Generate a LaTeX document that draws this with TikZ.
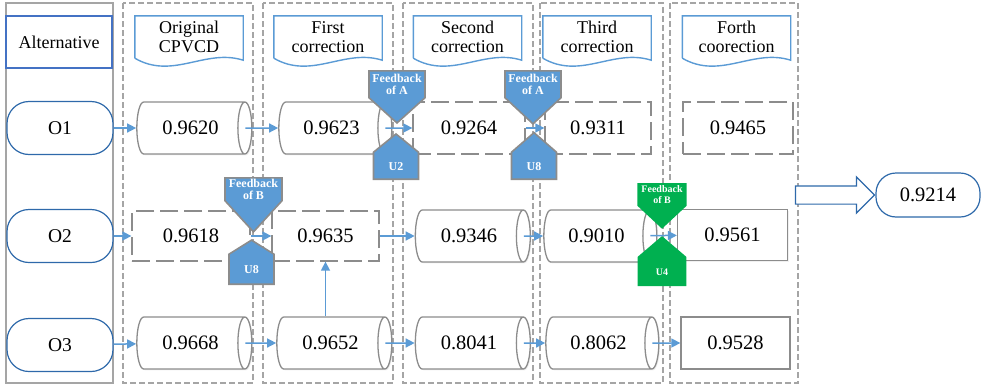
\documentclass[tikz,border=0pt]{standalone}
\usepackage{fontspec}
\setmainfont{Liberation Serif}
\usetikzlibrary{arrows.meta,calc,shadows,shapes.geometric,shapes.symbols,shapes.arrows}

\definecolor{framegray}{RGB}{165,165,165}
\definecolor{boxgray}{RGB}{140,140,140}
\definecolor{flowblue}{RGB}{91,155,213}
\definecolor{headblue}{RGB}{68,114,196}
\definecolor{termblue}{RGB}{46,105,170}
\definecolor{fbgreen}{RGB}{0,176,80}

\tikzset{
  colframe/.style={draw=framegray,line width=1.3pt,dash pattern=on 6pt off 3pt},
  altframe/.style={draw=framegray,line width=1.3pt},
  head/.style={minimum width=108pt,minimum height=42pt,inner sep=0pt,align=center,font=\fontsize{18}{19}\selectfont},
  docline/.style={draw=flowblue,line width=1.4pt},
  term/.style={draw=termblue,line width=1.2pt,fill=white,rounded corners=22pt,minimum width=106pt,minimum height=53pt,font=\fontsize{19.5}{20}\selectfont},
  val/.style={fill=white,line width=1.3pt,inner sep=0pt,font=\fontsize{20.5}{22}\selectfont},
  softshadow/.style={drop shadow={shadow xshift=1.3pt,shadow yshift=-1.3pt,opacity=.12}},
  cyl/.style={val,cylinder,draw=boxgray,shape aspect=1,minimum width=52pt,minimum height=115pt,softshadow},
  dbox/.style={val,draw=boxgray,dash pattern=on 18pt off 6pt,minimum width=112pt,minimum height=52pt},
  sbox/.style={val,draw=boxgray,minimum width=110pt,minimum height=51pt,softshadow},
  fbk/.style={signal,signal to=south,signal pointer angle=#1,fill=flowblue,draw=boxgray,line width=1.6pt,
    text=white,align=center,minimum width=56pt,inner ysep=3pt,font=\bfseries\fontsize{12}{12.5}\selectfont},
  unit/.style={signal,signal to=north,signal pointer angle=#1,fill=flowblue,draw=boxgray,line width=1.6pt,
    text=white,minimum width=45pt,text height=9pt,text depth=0pt,inner ysep=9pt,font=\bfseries\fontsize{12}{12}\selectfont},
  green/.style={fill=fbgreen,draw=fbgreen,minimum width=47pt},
  flow/.style={-{Triangle[length=9pt,width=9pt]},draw=flowblue,line width=1.5pt},
  fromcyl/.style={flow,shorten <=-7pt},
}

\begin{document}
\begin{tikzpicture}[x=1pt,y=-1pt]
\useasboundingbox (0,0) rectangle (982,386);

% column frames
\draw[altframe] (6,3) rectangle (113,383);
\foreach \xa/\xb in {123/253,263/393,403/533,540/663,670/798}
  \draw[colframe] (\xa,3) rectangle (\xb,383);

% headers
\node[draw=headblue,line width=1.3pt,minimum width=106pt,minimum height=52pt,font=\fontsize{18}{19}\selectfont] (alt) at (59,42) {Alternative};
\node[head] (h1) at (189,37) {Original\\CPVCD};
\node[head] (h2) at (328,37) {First\\correction};
\node[head] (h3) at (467.5,37) {Second\\correction};
\node[head] (h4) at (597,37) {Third\\correction};
\node[head] (h5) at (736.5,37) {Forth\\coorection};
\foreach \h in {h1,h2,h3,h4,h5}
  \draw[docline] (\h.south west) -- (\h.north west) -- (\h.north east) -- ($(\h.south east)+(0,2)$)
    .. controls ($(\h.south west)!.65!(\h.south east)+(0,-10)$) and ($(\h.south west)!.35!(\h.south east)+(0,22)$) .. (\h.south west);

% alternatives
\node[term] (o1) at (60,128) {O1};
\node[term] (o2) at (60,236) {O2};
\node[term] (o3) at (60,345) {O3};

% values, row by row
\node[cyl] (r1c1) at (190.5,128) {0.9620};
\node[cyl,minimum height=113pt] (r1c2) at (331.5,128) {0.9623};
\node[dbox] (r1c3) at (469,128) {0.9264};
\node[dbox,minimum width=106pt] (r1c4) at (598,128) {0.9311};
\node[dbox,minimum width=110pt] (r1c5) at (738,128) {0.9465};

\node[dbox,minimum width=118pt,minimum height=50pt] (r2c1) at (191,236) {0.9618};
\node[dbox,minimum width=107pt,minimum height=50pt] (r2c2) at (325.5,236) {0.9635};
\node[cyl] (r2c3) at (469,236) {0.9346};
\node[cyl,minimum height=113pt] (r2c4) at (596.5,236) {0.9010};
\node[sbox] (r2c5) at (732.5,235) {0.9561};

\node[cyl] (r3c1) at (190.5,343) {0.9668};
\node[cyl] (r3c2) at (330.5,343) {0.9652};
\node[cyl] (r3c3) at (469,343) {0.8041};
\node[cyl,minimum height=113pt] (r3c4) at (598.5,343) {0.8062};
\node[sbox,minimum width=109pt,minimum height=52pt] (r3c5) at (735.5,343) {0.9528};

% result
\node[term,minimum width=104pt,minimum height=44pt,rounded corners=20pt,font=\fontsize{20.5}{22}\selectfont] (res) at (928,195) {0.9214};
\node[single arrow,draw=termblue,line width=1.2pt,fill=white,minimum height=79pt,minimum width=35pt,
  inner sep=0pt,inner ysep=8.5pt,single arrow head extend=9pt,anchor=tip] (big) at (res.west) {};

% feedback and units
\node[fbk=96,anchor=north] (fa1) at (397,70) {Feedback\\of A};
\node[unit=102,anchor=south] (u2) at (396,180) {U2};
\node[fbk=94,anchor=north] (fa2) at (533,70) {Feedback\\of A};
\node[unit=98,anchor=south] (u8a) at (534,180) {U8};
\node[fbk=85,anchor=north,inner ysep=1pt,minimum width=57pt] (fb1) at (253.5,177) {Feedback\\of B};
\node[unit=116,anchor=south,inner ysep=10.5pt] (u8b) at (251.5,285) {U8};
\node[fbk=94,green,anchor=north,inner ysep=2pt,font=\bfseries\fontsize{10}{10.5}\selectfont] (fb2) at (662,183) {Feedback\\of B};
\node[unit=99,green,anchor=south,inner ysep=9.5pt,font=\bfseries\fontsize{10}{10}\selectfont] (u4) at (662,286) {U4};

% flows
\draw[flow] (o1) -- (r1c1);
\draw[fromcyl] (r1c1) -- (r1c2);
\draw[fromcyl] (r1c2) -- (r1c3);
\draw[flow] (r1c3) -- (r1c4);
\draw[flow] (o2) -- (r2c1);
\draw[flow] (r2c1) -- (r2c2);
\draw[flow] (r2c2) -- (r2c3);
\draw[fromcyl] (r2c3) -- (r2c4);
\draw[fromcyl] (r2c4) -- (r2c5);
\draw[flow] (o3) -- (r3c1);
\draw[fromcyl] (r3c1) -- (r3c2);
\draw[fromcyl] (r3c2) -- (r3c3);
\draw[fromcyl] (r3c3) -- (r3c4);
\draw[fromcyl] (r3c4) -- (r3c5);
\draw[flow] (r2c2.south |- r3c2.north) -- (r2c2.south);
\end{tikzpicture}
\end{document}
